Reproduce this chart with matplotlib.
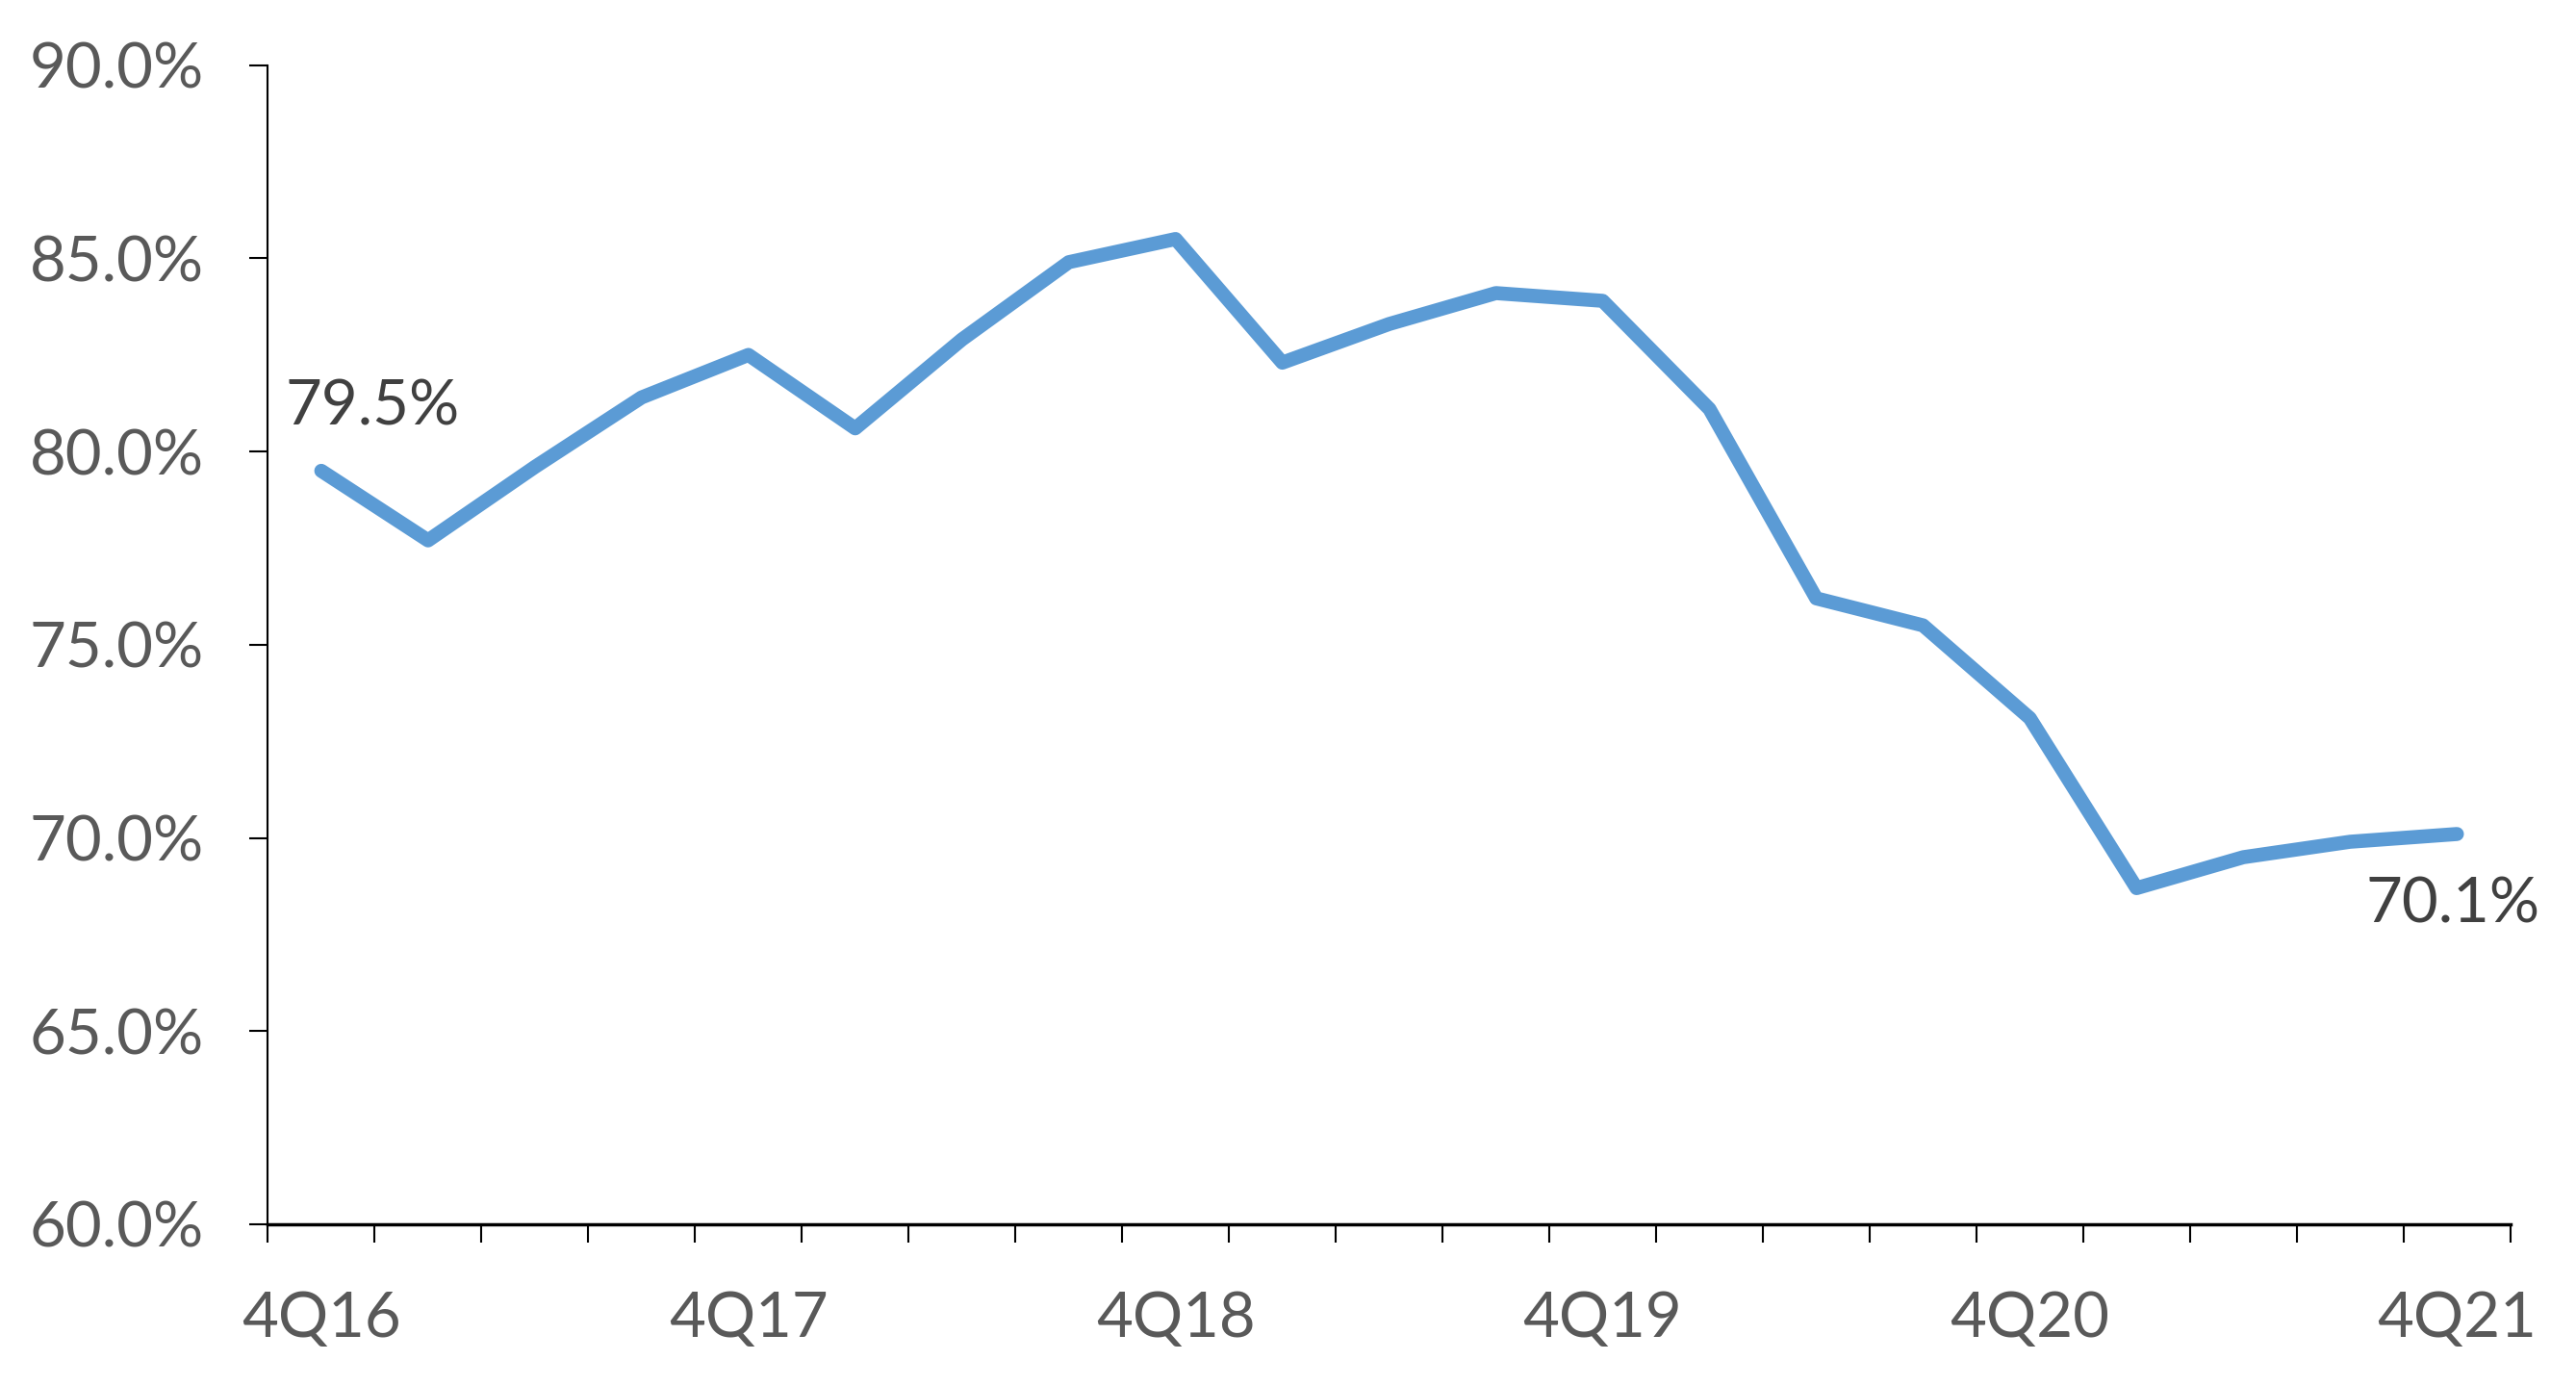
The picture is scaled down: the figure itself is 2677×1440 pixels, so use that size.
import matplotlib.pyplot as plt
from matplotlib.ticker import FixedLocator, PercentFormatter

quarters = ["4Q16",
            "1Q17", "2Q17", "3Q17", "4Q17",
            "1Q18", "2Q18", "3Q18", "4Q18",
            "1Q19", "2Q19", "3Q19", "4Q19",
            "1Q20", "2Q20", "3Q20", "4Q20",
            "1Q21", "2Q21", "3Q21", "4Q21"]
ratio = [79.5, 77.7, 79.6, 81.4, 82.5, 80.6, 82.9, 84.9, 85.5, 82.3, 83.3,
         84.1, 83.9, 81.1, 76.2, 75.5, 73.1, 68.7, 69.5, 69.9, 70.1]
shown_labels = ["4Q16", "4Q17", "4Q18", "4Q19", "4Q20", "4Q21"]

BLUE = "#5B9BD5"
TICK_GREY = "#595959"
LABEL_GREY = "#404040"

plt.rcParams["font.family"] = ["Lato", "DejaVu Sans"]


def draw_chart():
    fig = plt.figure(figsize=(26.77, 14.4), dpi=100)
    ax = fig.add_axes([0.104, 0.1167, 0.8705, 0.8363])

    x = list(range(len(quarters)))
    ax.plot(x, ratio, color=BLUE, linewidth=10.5, solid_capstyle="round",
            solid_joinstyle="round")

    ax.set_ylim(60, 90)
    ax.set_xlim(-0.5, len(quarters) - 0.5)

    # y axis
    ax.set_yticks(range(60, 91, 5))
    ax.yaxis.set_major_formatter(PercentFormatter(decimals=1))
    ax.tick_params(axis="y", length=14, width=1.5, pad=34,
                   labelsize=47, labelcolor=TICK_GREY)

    # x axis: ticks between categories, labels every year
    major = [quarters.index(q) for q in shown_labels]
    ax.set_xticks(major)
    ax.set_xticklabels(shown_labels)
    ax.xaxis.set_minor_locator(FixedLocator([i - 0.5 for i in range(len(quarters) + 1)]))
    ax.tick_params(axis="x", which="major", length=0, pad=50,
                   labelsize=47, labelcolor=TICK_GREY)
    ax.tick_params(axis="x", which="minor", length=14, width=1.5)

    for side in ["top", "right"]:
        ax.spines[side].set_visible(False)
    ax.spines["left"].set_linewidth(1.5)
    ax.spines["bottom"].set_linewidth(2.5)

    # end labels
    ax.text(-0.34, 81.15, f"{ratio[0]:.1f}%", ha="left", va="center",
            fontsize=47, color=LABEL_GREY)
    ax.text(len(quarters) - 1 - 0.85, 68.26, f"{ratio[-1]:.1f}%", ha="left",
            va="center", fontsize=47, color=LABEL_GREY)

    fig.savefig("out.png", dpi=100)


if __name__ == "__main__":
    draw_chart()
